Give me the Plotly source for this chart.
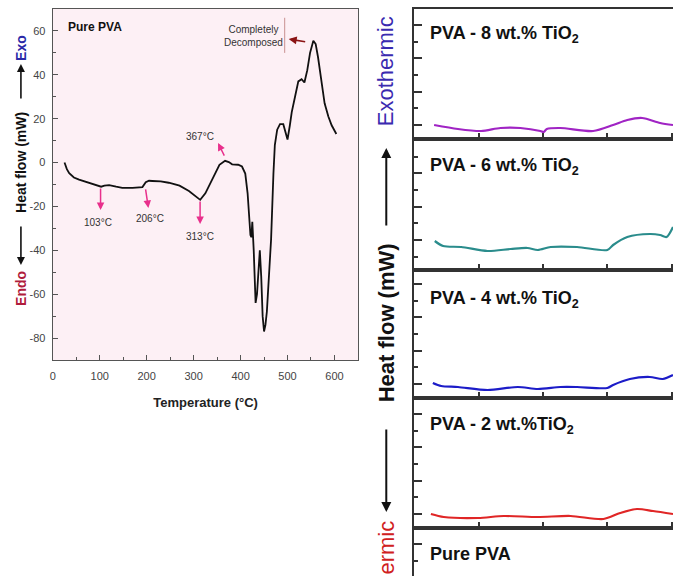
import plotly.graph_objects as go

W, H = 673, 576

# ---------------- data: left panel (Pure PVA DSC) ----------------
pva_temp = [25, 30, 35, 45, 56, 75, 99, 103, 110, 120, 135, 148, 170, 191, 198, 205, 212, 230, 247,
            270, 290, 305, 314, 325, 339, 346, 355, 367, 375, 382, 395, 403, 410, 415, 419, 421, 423,
            425, 428, 432, 435, 438, 441, 444, 447, 450, 453, 456, 460, 465, 470, 473, 478, 484, 491,
            496, 500, 505, 509, 516, 523, 530, 536, 542, 548, 555, 560, 565, 572, 579, 587, 594, 604]
pva_heat = [0, -3, -4.8, -6.8, -7.8, -9, -10.5, -11, -10.5, -10.3, -11, -11.5, -11.5, -11.2, -9, -8.3,
            -8.4, -8.6, -9.2, -10.5, -13, -15.5, -17, -14, -7.8, -4.5, -1, 0.8, 0.2, -0.8, -1, -1.8, -5,
            -14, -26, -33, -34, -27, -40, -64, -60, -50, -40, -52, -70, -77, -74, -68, -55, -35, -5, 8,
            15, 17.5, 17.5, 13, 10.5, 17, 23, 30, 37, 38, 36.5, 42, 50, 55.5, 54, 48, 37, 27, 21, 17, 13]

left_xticks = [0, 100, 200, 300, 400, 500, 600]
left_yticks = [-80, -60, -40, -20, 0, 20, 40, 60]
left_ytext = ["-80", "-60", "-40", "-20", "0", "20", "40", "60"]

peak_labels = ["103°C", "206°C", "313°C", "367°C"]
peak_text_T = [95.4, 207.8, 313.8, 313.8]
peak_text_H = [-27.5, -25.7, -33.9, 12.1]
peak_head_T = [101.8, 203.6, 313.8, 352.0]
peak_head_H = [-21.6, -20.7, -28.0, 8.9]
peak_tail_dx = [0, -3, 0, 7]
peak_tail_dy = [-23, -20, -24, 14]

# ---------------- data: right stacked panels ----------------
p8_x = [31, 68, 104, 134, 165, 196, 201, 206, 227, 278, 309, 331, 354, 382, 402]
p8_y = [0, -0.24, -0.36, -0.18, -0.18, -0.36, -0.42, -0.24, -0.18, -0.36, 0, 0.3, 0.42, 0.12, 0]

p6_x = [32, 45, 73, 114, 150, 176, 192, 212, 253, 300, 309, 331, 366, 382, 392, 402]
p6_y = [-0.06, -0.36, -0.42, -0.66, -0.54, -0.48, -0.6, -0.42, -0.42, -0.6, -0.3, 0.18, 0.36, 0.3, 0.18, 0.78]

p4_x = [29, 42, 68, 114, 161, 192, 227, 253, 300, 309, 335, 366, 386, 402]
p4_y = [0.06, -0.12, -0.18, -0.36, -0.18, -0.3, -0.18, -0.18, -0.24, -0.06, 0.3, 0.42, 0.3, 0.54]

p2_x = [26, 46, 99, 139, 192, 243, 294, 320, 346, 371, 402]
p2_y = [0, -0.18, -0.24, -0.12, -0.18, -0.12, -0.3, 0.06, 0.3, 0.18, 0]

panel_labels = ["PVA - 8 wt.% TiO<sub>2</sub>", "PVA - 6 wt.% TiO<sub>2</sub>",
                "PVA - 4 wt.% TiO<sub>2</sub>", "PVA - 2 wt.%TiO<sub>2</sub>", "Pure PVA"]
panel_colors = ["#a024c4", "#2a8c8c", "#1c1cc8", "#e02626"]
right_xticks = [100, 200, 300, 400]

# ---------------- layout helpers ----------------
def PX(px):
    return px / W


def PY(py):
    return 1 - py / H


fig = go.Figure()

# left panel
fig.add_trace(go.Scatter(x=pva_temp, y=pva_heat, mode="lines", line=dict(color="#111", width=1.8),
                         xaxis="x", yaxis="y", showlegend=False, hoverinfo="skip"))

series = [(p8_x, p8_y), (p6_x, p6_y), (p4_x, p4_y), (p2_x, p2_y)]
for i, (xs, ys) in enumerate(series):
    k = i + 2
    fig.add_trace(go.Scatter(x=xs, y=ys, mode="lines", line=dict(color=panel_colors[i], width=2.2,
                                                                  shape="spline", smoothing=0.8),
                             xaxis=f"x{k}", yaxis=f"y{k}", showlegend=False, hoverinfo="skip"))
# empty trace for Pure PVA panel
fig.add_trace(go.Scatter(x=[None], y=[None], xaxis="x6", yaxis="y6", showlegend=False))

narrow = "Liberation Sans Narrow, Arial Narrow, Liberation Sans, Arial"
tickfont_left = dict(family=narrow, size=11, color="#444")

layout = dict(
    width=W, height=H, margin=dict(l=0, r=0, t=0, b=0), autosize=False,
    paper_bgcolor="white", plot_bgcolor="rgba(0,0,0,0)",
    xaxis=dict(domain=[PX(50), PX(357)], range=[0, 651], tickvals=left_xticks, ticks="inside",
               ticklen=5, tickcolor="#555", minor=dict(dtick=50, tick0=0, ticks="inside", ticklen=3, tickcolor="#555"),
               showline=True, mirror=True, linecolor="#555", linewidth=1.3, showgrid=False, zeroline=False,
               tickfont=tickfont_left, ticklabelstandoff=6, anchor="y",
               title=dict(text="<b>Temperature (°C)</b>", font=dict(family=narrow, size=13, color="#222"), standoff=16)),
    yaxis=dict(domain=[PY(360), PY(9)], range=[-90, 70], tickvals=left_yticks, ticktext=left_ytext,
               ticks="inside", ticklen=5, tickcolor="#555",
               minor=dict(dtick=10, tick0=0, ticks="inside", ticklen=3, tickcolor="#555"),
               showline=True, mirror=True, linecolor="#555", linewidth=1.3, showgrid=False, zeroline=False,
               tickfont=tickfont_left, ticklabelstandoff=4, anchor="x"),
)

right_y_bounds = [(9, 139), (139, 270), (270, 398), (398, 528), (528, 576)]
right_y_ranges = [[-0.84, 6.96], [-1.8, 6.06], [-0.84, 6.84], [-0.84, 6.96], [4.08, 6.96]]
for i in range(5):
    k = i + 2
    top, bot = right_y_bounds[i]
    last = (i == 4)
    layout[f"xaxis{k}"] = dict(domain=[PX(413), 1.0], range=[0, 402], tickvals=right_xticks,
                               ticks="" if last else "inside", ticklen=6, tickcolor="#333", tickwidth=1.5,
                               showticklabels=False, showline=True, mirror=(False if last else True),
                               side=("top" if last else "bottom"),
                               linecolor="#333", linewidth=2, showgrid=False, zeroline=False, anchor=f"y{k}")
    layout[f"yaxis{k}"] = dict(domain=[PY(bot), PY(top)], range=right_y_ranges[i], dtick=2, tick0=0,
                               ticks="inside", ticklen=8, tickcolor="#333", tickwidth=1.5,
                               minor=dict(dtick=1, tick0=0, ticks="inside", ticklen=4, tickcolor="#333"),
                               showticklabels=False, showline=True, linecolor="#333", linewidth=2,
                               showgrid=False, zeroline=False, anchor=f"x{k}")

fig.update_layout(**layout)

# pink background for left plot
fig.add_shape(type="rect", xref="x domain", yref="y domain", x0=0, x1=1, y0=0, y1=1,
              fillcolor="#fdf0f5", line=dict(width=0), layer="below")

ann = []
small = dict(family=narrow, size=10, color="#333")
for lab, tx, ty, hx, hy, dx, dy in zip(peak_labels, peak_text_T, peak_text_H, peak_head_T, peak_head_H,
                                       peak_tail_dx, peak_tail_dy):
    ann.append(dict(x=tx, y=ty, xref="x", yref="y", text=lab, showarrow=False, font=small,
                    xanchor="center", yanchor="middle"))
    ann.append(dict(x=hx, y=hy, xref="x", yref="y", text="", showarrow=True, ax=dx, ay=dy,
                    arrowhead=2, arrowsize=1, arrowwidth=1.5, arrowcolor="#e8308c"))

ann.append(dict(x=428, y=57.7, xref="x", yref="y", text="Completely<br>Decomposed", showarrow=False,
                font=dict(family=narrow, size=10, color="#333"), align="center",
                xanchor="center", yanchor="middle"))
ann.append(dict(x=502.5, y=56.3, xref="x", yref="y", text="", showarrow=True, ax=18, ay=3,
                arrowhead=2, arrowsize=1, arrowwidth=1.6, arrowcolor="#8b1414"))
fig.add_shape(type="line", xref="x", yref="y", x0=494, x1=494, y0=50, y1=66,
              line=dict(color="#c89090", width=1))

ann.append(dict(x=PX(63), y=PY(27), xref="paper", yref="paper", text="<b>Pure PVA</b>", showarrow=False,
                xanchor="left", yanchor="middle",
                font=dict(family="Liberation Sans, Arial", size=12, color="#111")))


def rot(px, py, text, font):
    return dict(x=PX(px), y=PY(py), xref="paper", yref="paper", text=text, textangle=-90,
                showarrow=False, xanchor="center", yanchor="middle", font=font)


def arrow(px, py, dy, width):
    return dict(x=PX(px), y=PY(py), xref="paper", yref="paper", text="", showarrow=True, ax=0, ay=dy,
                arrowhead=2, arrowsize=1, arrowwidth=width, arrowcolor="#111")


# left rotated title pieces
lt = dict(family="Liberation Sans, Arial", size=14)
ann.append(rot(18, 48, "<b>Exo</b>", dict(lt, color="#2a2aa8")))
ann.append(rot(18, 162, "<b>Heat flow (mW)</b>", dict(lt, color="#111")))
ann.append(rot(18, 288, "<b>Endo</b>", dict(lt, color="#b01c3c")))
ann.append(arrow(18, 64, 36, 1.6))
ann.append(arrow(18, 265, -40, 1.6))

# right rotated title pieces
rt = dict(family="Liberation Sans, Arial", size=22)
ann.append(rot(385, 71, "Exothermic", dict(rt, color="#3a2ab0")))
ann.append(rot(385, 323, "<b>Heat flow (mW)</b>", dict(rt, color="#111")))
ann.append(rot(385, 582, "Endothermic", dict(rt, color="#d02020")))
ann.append(arrow(385, 148, 79, 2))
ann.append(arrow(385, 512, -84, 2))

label_y = [35, 166, 299, 425, 554]
for lab, ly in zip(panel_labels, label_y):
    ann.append(dict(x=PX(427), y=PY(ly), xref="paper", yref="paper", text=f"<b>{lab}</b>", showarrow=False,
                    xanchor="left", yanchor="middle",
                    font=dict(family="Liberation Sans, Arial", size=18, color="#111")))

fig.update_layout(annotations=ann)
fig.write_html("out.html")
